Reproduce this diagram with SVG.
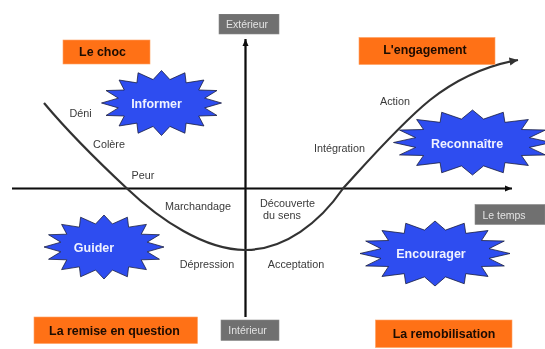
<svg xmlns="http://www.w3.org/2000/svg" width="545" height="349" viewBox="0 0 545 349">
<style>
text{font-family:"Liberation Sans",Arial,sans-serif;text-anchor:middle}
.phase{fill:#ff7119;stroke:#ffa060;stroke-width:.6}
.phase-t{font-size:12.400px;font-weight:bold;fill:#1a0a00}
.tag{fill:#6f6f6f;stroke:#8a8a8a;stroke-width:.6}
.tag-t{font-size:10.500px;fill:#e4e4e4}
#burst{vector-effect:non-scaling-stroke;stroke:#1a2040;stroke-width:.8;stroke-miterlimit:12;fill:#2e4df0}
.star-t{font-size:12.500px;font-weight:bold;fill:#f0f2ff}
.lbl{font-size:10.800px;fill:#3a3a3a}
.axis{fill:none;stroke:#0a0a0a;stroke-width:2.200}
.curve{fill:none;stroke:#333;stroke-width:2.200}
</style>
<defs>
<filter id="soft" x="0" y="0" width="100%" height="100%"><feGaussianBlur stdDeviation="0.4"/></filter>
<polygon id="burst" points="1,0 .72,.15 .924,.383 .62,.4 .707,.707 .41,.62 .39,.93 .14,.72 0,1 -.14,.72 -.39,.93 -.41,.62 -.707,.707 -.62,.4 -.924,.383 -.72,.15 -1,0 -.72,-.15 -.924,-.383 -.62,-.4 -.707,-.707 -.41,-.62 -.39,-.93 -.14,-.72 0,-1 .14,-.72 .39,-.93 .41,-.62 .707,-.707 .62,-.4 .924,-.383 .72,-.15"/>
<marker id="ah" markerUnits="userSpaceOnUse" markerWidth="8" markerHeight="8" refX="7" refY="4" orient="auto"><path d="M0,1 L7,4 L0,7 Z" fill="#0a0a0a"/></marker>
<marker id="ah2" markerUnits="userSpaceOnUse" markerWidth="10" markerHeight="10" refX="8.500" refY="4.500" orient="auto"><path d="M0,.5 L8.500,4.500 L0,8.500 Z" fill="#333"/></marker>
</defs>
<rect width="545" height="349" fill="#fff"/>
<g filter="url(#soft)">
<g id="connectors">
<path class="axis" d="M245.500,317 V39" marker-end="url(#ah)"/>
<path class="axis" d="M12,188.500 H512" marker-end="url(#ah)"/>
<path class="curve" d="M44,103 C75,140 105,168 127,188.500 C160,220 205,250 245,250 C285,250 320,222 343,188.500 C362,168 398,126 430,100 C458,78 490,65 518,60" marker-end="url(#ah2)"/>
</g>
<g id="le-choc"><rect class="phase" x="63" y="40" width="87" height="24"/><text class="phase-t" x="102.500" y="55.500">Le choc</text></g>
<g id="engagement"><rect class="phase" x="359" y="37.500" width="136" height="27"/><text class="phase-t" x="425" y="54">L'engagement</text></g>
<g id="remise"><rect class="phase" x="34" y="317" width="163.500" height="26.500"/><text class="phase-t" x="114.500" y="335">La remise en question</text></g>
<g id="remobilisation"><rect class="phase" x="375.500" y="320" width="136.500" height="27.500"/><text class="phase-t" x="444" y="338">La remobilisation</text></g>
<g id="exterieur"><rect class="tag" x="219" y="14" width="60" height="20"/><text class="tag-t" x="247" y="28">Extérieur</text></g>
<g id="interieur"><rect class="tag" x="221" y="320" width="58" height="20.500"/><text class="tag-t" x="247.500" y="334">Intérieur</text></g>
<g id="le-temps"><rect class="tag" x="475" y="204.500" width="70" height="20"/><text class="tag-t" x="504" y="218.500">Le temps</text></g>
<g id="informer"><use href="#burst" transform="translate(161.500,103) scale(60,32.500)"/><text class="star-t" x="156.500" y="107.500">Informer</text></g>
<g id="reconnaitre"><use href="#burst" transform="translate(472.500,142.500) scale(79,32.500)"/><text class="star-t" x="467" y="147.500">Reconnaître</text></g>
<g id="guider"><use href="#burst" transform="translate(104,247) scale(60,32)"/><text class="star-t" x="94" y="252">Guider</text></g>
<g id="encourager"><use href="#burst" transform="translate(435,253.500) scale(75,32.500)"/><text class="star-t" x="431" y="258">Encourager</text></g>
<g id="labels">
<text class="lbl" x="80.500" y="117">Déni</text>
<text class="lbl" x="109" y="148">Colère</text>
<text class="lbl" x="143" y="179">Peur</text>
<text class="lbl" x="198" y="210">Marchandage</text>
<text class="lbl" x="207" y="268">Dépression</text>
<text class="lbl" x="287.500" y="206.500">Découverte</text>
<text class="lbl" x="282" y="219">du sens</text>
<text class="lbl" x="296" y="268">Acceptation</text>
<text class="lbl" x="339.500" y="152">Intégration</text>
<text class="lbl" x="395" y="104.500">Action</text>
</g>
</g>
</svg>
